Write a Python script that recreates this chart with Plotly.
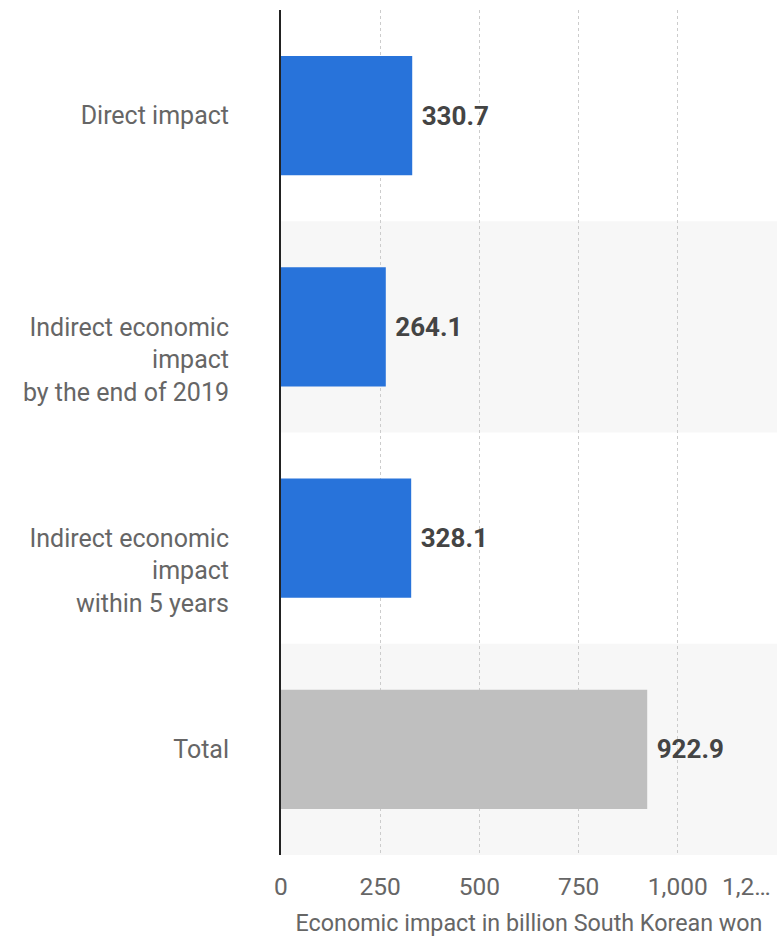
import plotly.graph_objects as go

categories = ["Direct impact",
              "<br><br>Indirect economic<br>impact<br>by the end of 2019",
              "<br><br>Indirect economic<br>impact<br>within 5 years",
              "Total"]
values = [330.7, 264.1, 328.1, 922.9]
bar_colors = ["#2873DA", "#2873DA", "#2873DA", "#BFBFBF"]
tick_vals = [0, 250, 500, 750, 1000]
tick_text = ["0", "250", "500", "750", "1,000"]
last_tick_label = "1,2…"
x_max = 1250

fig = go.Figure()
fig.add_trace(go.Bar(
    y=list(range(len(categories))),
    x=values,
    orientation="h",
    marker=dict(color=bar_colors, line=dict(width=0)),
    width=0.565,
    text=[f" {v:.1f}" for v in values],
    textposition="outside",
    textfont=dict(family="Roboto", size=26, color="#444444", weight="bold"),
    cliponaxis=False,
    hoverinfo="skip",
))

shapes = []
for i in range(len(categories)):
    if i % 2 == 1:
        shapes.append(dict(type="rect", xref="x domain", yref="y",
                           x0=0, x1=1, y0=i - 0.5, y1=i + 0.5,
                           fillcolor="#F7F7F7", line=dict(width=0), layer="below"))

fig.update_layout(
    width=777, height=938,
    margin=dict(l=281, r=0, t=10, b=83),
    paper_bgcolor="white", plot_bgcolor="white",
    showlegend=False,
    shapes=shapes,
    font=dict(family="Roboto", color="#666666"),
    xaxis=dict(
        range=[0, x_max],
        tickvals=tick_vals, ticktext=tick_text,
        tickfont=dict(size=24.5, color="#666666"),
        showgrid=True, gridcolor="#CCCCCC", griddash="dot", gridwidth=1,
        zeroline=False, showline=False, ticks="",
        ticklabelstandoff=14,
        automargin=False,
        title=dict(text="Economic impact in billion South Korean won",
                   font=dict(size=23.3, color="#666666"), standoff=15),
    ),
    yaxis=dict(
        range=[len(categories) - 0.5, -0.5],
        tickvals=list(range(len(categories))), ticktext=categories,
        tickfont=dict(size=25, color="#666666"),
        showgrid=False, zeroline=False,
        showline=True, linecolor="#222222", linewidth=2,
        ticks="", ticklabelstandoff=45,
        automargin=False,
    ),
    annotations=[dict(x=1, xref="paper", y=0, yref="paper", yshift=-31,
                      xshift=-4,
                      text=last_tick_label, showarrow=False, xanchor="right",
                      yanchor="middle", font=dict(size=24.5, color="#666666"))],
)

fig.write_html("out.html",
               config={"displayModeBar": False},
               post_script="document.body.style.margin='0';document.body.style.overflow='hidden';")
